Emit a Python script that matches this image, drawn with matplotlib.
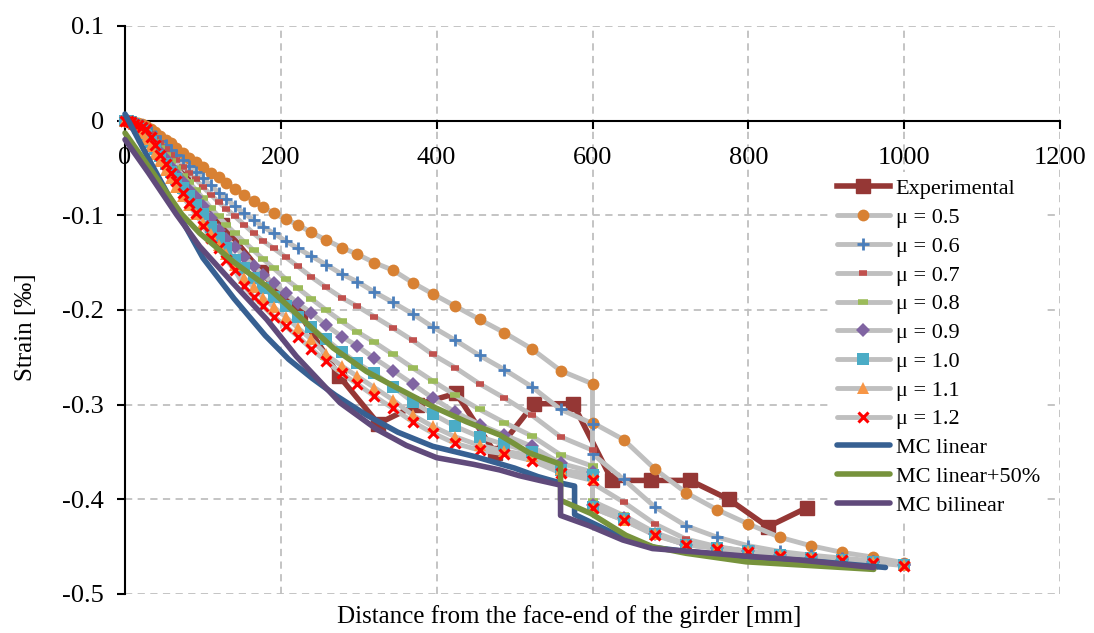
import matplotlib
matplotlib.use("Agg")
import matplotlib.pyplot as plt
from matplotlib.lines import Line2D

plt.rcParams['font.family'] = ['Liberation Serif', 'DejaVu Serif']

# ---- data ----
mu_x = [0, 4, 8, 12, 17, 22, 27, 33, 39, 45, 52, 59, 66, 74, 82, 91, 100, 110, 120, 130,
        141, 153, 165, 177, 191, 206, 222, 239, 258, 278, 298, 320, 344, 369, 395, 424,
        455, 487, 522, 559, 600, 600, 640, 680, 720, 760, 800, 840, 880, 920, 960, 1000]

mu05 = [0.000, 0.000, 0.000, -0.001, -0.002, -0.004, -0.006, -0.009, -0.012, -0.016,
        -0.020, -0.024, -0.029, -0.034, -0.039, -0.044, -0.049, -0.055, -0.060, -0.066,
        -0.072, -0.078, -0.085, -0.091, -0.098, -0.104, -0.110, -0.118, -0.126, -0.134,
        -0.141, -0.150, -0.158, -0.171, -0.183, -0.196, -0.210, -0.224, -0.241, -0.264,
        -0.278, -0.319, -0.337, -0.368, -0.393, -0.411, -0.426, -0.440, -0.449, -0.456,
        -0.461, -0.467]
mu06 = [0.000, 0.000, 0.000, -0.001, -0.003, -0.005, -0.008, -0.012, -0.016, -0.021,
        -0.026, -0.031, -0.036, -0.042, -0.048, -0.054, -0.061, -0.068, -0.076, -0.083,
        -0.090, -0.098, -0.105, -0.112, -0.119, -0.127, -0.135, -0.143, -0.152, -0.162,
        -0.170, -0.181, -0.192, -0.204, -0.218, -0.232, -0.248, -0.263, -0.281, -0.305,
        -0.320, -0.352, -0.379, -0.408, -0.428, -0.440, -0.449, -0.455, -0.459, -0.462,
        -0.465, -0.468]
mu07 = [0.000, 0.000, -0.001, -0.002, -0.004, -0.006, -0.010, -0.014, -0.019, -0.024,
        -0.030, -0.036, -0.042, -0.049, -0.055, -0.062, -0.070, -0.078, -0.086, -0.093,
        -0.101, -0.110, -0.119, -0.127, -0.135, -0.144, -0.154, -0.165, -0.176, -0.187,
        -0.196, -0.207, -0.219, -0.232, -0.247, -0.261, -0.278, -0.293, -0.311, -0.334,
        -0.348, -0.383, -0.403, -0.426, -0.442, -0.450, -0.455, -0.459, -0.462, -0.464,
        -0.466, -0.469]
mu08 = [0.000, 0.000, -0.001, -0.003, -0.005, -0.008, -0.012, -0.017, -0.023, -0.029,
        -0.036, -0.043, -0.050, -0.058, -0.065, -0.073, -0.082, -0.092, -0.101, -0.110,
        -0.119, -0.128, -0.137, -0.146, -0.156, -0.167, -0.177, -0.188, -0.200, -0.212,
        -0.223, -0.234, -0.247, -0.261, -0.275, -0.290, -0.305, -0.319, -0.333, -0.353,
        -0.365, -0.402, -0.417, -0.435, -0.447, -0.451, -0.455, -0.459, -0.462, -0.464,
        -0.466, -0.469]
mu09 = [0.000, 0.000, -0.001, -0.003, -0.006, -0.009, -0.014, -0.020, -0.026, -0.033,
        -0.041, -0.049, -0.056, -0.065, -0.073, -0.081, -0.090, -0.103, -0.115, -0.125,
        -0.133, -0.144, -0.153, -0.163, -0.172, -0.182, -0.193, -0.203, -0.216, -0.228,
        -0.238, -0.251, -0.264, -0.278, -0.293, -0.308, -0.321, -0.332, -0.344, -0.362,
        -0.371, -0.406, -0.420, -0.437, -0.448, -0.451, -0.455, -0.459, -0.462, -0.464,
        -0.466, -0.469]
mu10 = [0.000, 0.000, -0.001, -0.003, -0.007, -0.011, -0.016, -0.023, -0.030, -0.037,
        -0.046, -0.054, -0.062, -0.071, -0.080, -0.089, -0.099, -0.112, -0.124, -0.134,
        -0.147, -0.156, -0.166, -0.177, -0.186, -0.196, -0.207, -0.218, -0.231, -0.244,
        -0.256, -0.267, -0.281, -0.297, -0.310, -0.323, -0.334, -0.342, -0.350, -0.369,
        -0.374, -0.408, -0.421, -0.437, -0.448, -0.451, -0.455, -0.459, -0.462, -0.464,
        -0.466, -0.469]
mu11 = [0.000, 0.000, -0.001, -0.004, -0.008, -0.013, -0.019, -0.027, -0.035, -0.043,
        -0.052, -0.061, -0.070, -0.080, -0.089, -0.099, -0.108, -0.120, -0.131, -0.141,
        -0.152, -0.166, -0.176, -0.187, -0.197, -0.207, -0.219, -0.231, -0.247, -0.259,
        -0.270, -0.282, -0.295, -0.311, -0.323, -0.334, -0.343, -0.349, -0.354, -0.368,
        -0.378, -0.409, -0.422, -0.437, -0.448, -0.451, -0.455, -0.459, -0.462, -0.464,
        -0.466, -0.469]
mu12 = [0.000, 0.000, -0.001, -0.003, -0.005, -0.007, -0.009, -0.017, -0.026, -0.036,
        -0.046, -0.055, -0.064, -0.076, -0.087, -0.098, -0.111, -0.124, -0.135, -0.147,
        -0.158, -0.175, -0.186, -0.196, -0.207, -0.217, -0.228, -0.241, -0.254, -0.267,
        -0.278, -0.291, -0.304, -0.318, -0.330, -0.341, -0.348, -0.352, -0.359, -0.372,
        -0.380, -0.409, -0.422, -0.438, -0.448, -0.452, -0.456, -0.460, -0.462, -0.464,
        -0.467, -0.470]

exp_x = [25, 75, 125, 175, 225, 275, 325, 375, 425, 475, 525, 575, 625, 675, 725, 775, 825, 875]
exp_y = [-0.015, -0.060, -0.110, -0.160, -0.205, -0.270, -0.320, -0.300, -0.288, -0.351,
         -0.299, -0.299, -0.380, -0.380, -0.380, -0.400, -0.429, -0.409]

mcl_x = [0, 25, 50, 75, 100, 140, 180, 210, 240, 270, 310, 350, 395, 450, 500, 530, 560,
         577, 577, 600, 640, 680, 720, 800, 880, 976]
mcl_y = [0.007, -0.032, -0.070, -0.108, -0.145, -0.188, -0.227, -0.252, -0.272, -0.290,
         -0.311, -0.329, -0.344, -0.355, -0.367, -0.376, -0.383, -0.386, -0.416, -0.425,
         -0.441, -0.451, -0.455, -0.461, -0.465, -0.472]

mc50_x = [0, 30, 73, 96, 139, 182, 224, 267, 310, 353, 395, 438, 481, 519, 559, 559, 598,
          643, 677, 720, 797, 880, 961]
mc50_y = [-0.013, -0.048, -0.099, -0.119, -0.149, -0.175, -0.207, -0.240, -0.265, -0.284,
          -0.302, -0.318, -0.332, -0.351, -0.363, -0.401, -0.415, -0.438, -0.450, -0.457,
          -0.466, -0.470, -0.474]

mcb_x = [0, 30, 66, 96, 139, 182, 220, 276, 323, 361, 400, 447, 481, 506, 532, 559, 559,
         596, 639, 677, 724, 797, 865, 961]
mcb_y = [-0.020, -0.055, -0.099, -0.133, -0.172, -0.210, -0.249, -0.298, -0.326, -0.343,
         -0.356, -0.363, -0.369, -0.375, -0.380, -0.385, -0.417, -0.428, -0.443, -0.452,
         -0.455, -0.460, -0.464, -0.472]

mu_labels = ['\u03bc = 0.5', '\u03bc = 0.6', '\u03bc = 0.7', '\u03bc = 0.8', '\u03bc = 0.9',
             '\u03bc = 1.0', '\u03bc = 1.1', '\u03bc = 1.2']
mu_series = [mu05, mu06, mu07, mu08, mu09, mu10, mu11, mu12]

x_ticks = [0, 200, 400, 600, 800, 1000, 1200]
y_ticks = [0.1, 0, -0.1, -0.2, -0.3, -0.4, -0.5]
y_ticklabels = ['0.1', '0', '-0.1', '-0.2', '-0.3', '-0.4', '-0.5']

# marker styles for the mu series: (marker, color, size, edge width)
mu_styles = [('o', '#D88133', 8.5, 0),
             ('+', '#4A7EBB', 9, 2),
             ('_', '#C0504D', 5.5, 4),
             ('_', '#9BBB59', 7.5, 4),
             ('D', '#8064A2', 7, 0),
             ('s', '#4BACC6', 8.5, 0),
             ('^', '#F79646', 8.5, 0),
             ('x', '#FF0000', 7.5, 2.2)]
gray = '#BFBFBF'

fig = plt.figure(figsize=(10.94, 6.33), dpi=100)
ax = fig.add_axes([125/1094, 1-594/633, 935/1094, 568/633])

# experimental (sits under the simulated curves)
ax.plot(exp_x, exp_y, color='#953735', lw=4, marker='s', ms=10, zorder=1.5, clip_on=False)

# mu curves: gray line, then markers on top
handles = [Line2D([], [], color='#953735', lw=4, marker='s', ms=10)]
for ys, (mk, c, ms, mew) in zip(mu_series, mu_styles):
    ax.plot(mu_x, ys, color=gray, lw=3.5, zorder=2, clip_on=False, solid_capstyle='round')
    ax.plot(mu_x, ys, ls='none', marker=mk, color=c, ms=ms, mew=mew, zorder=4, clip_on=False)
    handles.append(Line2D([], [], color=gray, lw=3.5, marker=mk, mfc=c, mec=c, ms=ms, mew=mew,
                          solid_capstyle='round'))

# MC curves
mc_cols = ['#376092', '#77933C', '#604A7B']
for xs, ys, c in zip([mcl_x, mc50_x, mcb_x], [mcl_y, mc50_y, mcb_y], mc_cols):
    ax.plot(xs, ys, color=c, lw=4, zorder=5, clip_on=False, solid_capstyle='round')
    handles.append(Line2D([], [], color=c, lw=4, solid_capstyle='round'))

labels = ['Experimental'] + mu_labels + ['MC linear', 'MC linear+50%', 'MC bilinear']

ax.set_xlim(0, 1200)
ax.set_ylim(-0.5, 0.1)
ax.set_xticks(x_ticks)
ax.set_yticks(y_ticks)
ax.set_yticklabels(y_ticklabels)
ax.grid(True, color='#BFBFBF', ls=(0, (4, 3)), lw=1.3, zorder=0)
ax.set_axisbelow(True)

for s in ['top', 'right']:
    ax.spines[s].set_visible(False)
ax.spines['bottom'].set_position(('data', 0))
ax.spines['left'].set_linewidth(1.5)
ax.spines['bottom'].set_linewidth(1.5)
ax.spines['bottom'].set_zorder(1)
ax.tick_params(axis='both', direction='out', length=6, width=1.5, labelsize=19, pad=9)
ax.tick_params(axis='x', pad=13)

ax.set_ylabel('Strain [\u2030]', fontsize=18)
ax.yaxis.set_label_coords(-0.094, 0.47)
ax.set_xlabel('Distance from the face-end of the girder [mm]', fontsize=18)
ax.xaxis.set_label_coords(0.475, -0.02)

leg = ax.legend(handles, labels, loc='upper left', bbox_to_anchor=(830/1094, 1-172/633),
                bbox_transform=fig.transFigure, fontsize=16, frameon=True, facecolor='white',
                edgecolor='none', fancybox=False, framealpha=1, handlelength=2.4,
                handletextpad=0.25, labelspacing=0.37, borderpad=0.3, borderaxespad=0)
leg.set_zorder(6)

fig.savefig('out.png', dpi=100)
